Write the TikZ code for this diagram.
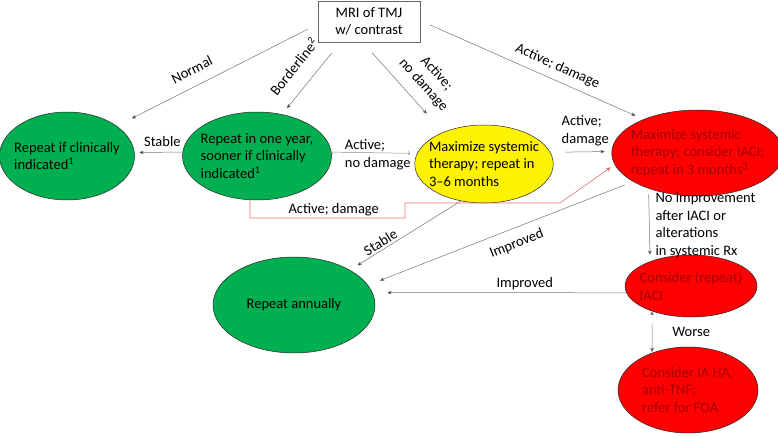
\documentclass[tikz,border=0pt]{standalone}
\usepackage{fontspec}
\setmainfont{Carlito}
\usepackage{xcolor}
\usetikzlibrary{arrows,shapes.geometric}

\definecolor{okgreen}{RGB}{0,176,80}
\definecolor{alarmred}{RGB}{255,0,0}
\definecolor{deepred}{RGB}{160,0,0}
\definecolor{linkred}{RGB}{228,112,112}
\definecolor{linkgray}{RGB}{115,115,115}

\begin{document}
\begin{tikzpicture}[x=1pt,y=-1pt,>=stealth',
 every node/.style={font=\fontsize{14.5}{17.5}\selectfont},
 oval/.style={ellipse,draw=black!85,line width=0.5pt,inner sep=-6pt,align=left},
 good/.style={oval,fill=okgreen},
 watch/.style={oval,fill=yellow},
 bad/.style={oval,fill=alarmred,text=deepred},
 lbl/.style={inner sep=1pt},
 link/.style={draw=linkgray,line width=0.5pt}]
 \useasboundingbox (0,0) rectangle (778,438);

 \node[draw=black!60,fill=white,align=center,minimum width=102pt,minimum height=41pt,inner sep=2pt] (M) at (369,21.5) {MRI of TMJ\\w/ contrast};
 \node[good,minimum width=135pt,minimum height=88pt] (G1) at (67,156) {Repeat if clinically\\indicated\textsuperscript{1}};
 \node[good,minimum width=149pt,minimum height=88pt] (G2) at (257,156) {Repeat in one year,\\sooner if clinically\\indicated\textsuperscript{1}};
 \node[watch,minimum width=138pt,minimum height=78pt] (Y) at (484,164) {Maximize systemic\\therapy; repeat in\\3--6 months};
 \node[bad,minimum width=155pt,minimum height=86pt] (R1) at (697.5,153) {Maximize systemic\\therapy; consider IACI;\\repeat in 3 months\textsuperscript{3}};
 \node[good,minimum width=162pt,minimum height=96pt] (G3) at (294,305) {Repeat annually};
 \node[bad,minimum width=132pt,minimum height=62pt] (R2) at (691,286) {Consider (repeat)\\IACI};
 \node[bad,minimum width=140pt,minimum height=86pt] (R3) at (688,390) {Consider IA HA,\\anti-TNF;\\refer for FOA};

 \coordinate (k1) at (405,218);
 \coordinate (k2) at (560,203);

 \path[->,link]
 (M.183) edge[shorten <=11pt,shorten >=17pt] node[lbl,sloped,above=10pt,pos=.59] {Normal} (G1.31)
 (M.216) edge[shorten <=14pt,shorten >=8pt] node[lbl,sloped,above=14pt,pos=.52] {Borderline\textsuperscript{2}} (G2.59)
 (M.253) edge[shorten <=14pt,shorten >=25pt] node[lbl,sloped,above=9pt,pos=.6,align=center] {Active;\\no damage} (Y.142)
 (M.1) edge[shorten <=11pt,shorten >=9pt] node[lbl,rotate=-24,above=6pt,pos=.59] {Active; damage} (R1.148)
 (G2.177) edge[shorten >=5pt] node[lbl,above=4pt,pos=.42] {Stable} (G1.3)
 (Y.10) edge[shorten <=15pt,shorten >=7pt] node[lbl,above=5pt,pos=.57,align=left] {Active;\\damage} (R1.179)
 (Y.238) edge[shorten >=9pt] node[lbl,sloped,above=1pt,pos=.69] {Stable} (G3.32)
 (R1.204) edge[shorten <=9pt,shorten >=13pt] node[lbl,sloped,below=8pt,pos=.46] {Improved} (G3.15)
 (R2.186) edge[shorten >=15pt] node[lbl,above=2pt,pos=.4] {Improved} (G3.9)
 (R1.216) edge[shorten <=6pt,shorten >=7pt] node[lbl,right=5pt,pos=.5,align=left] {No improvement\\after IACI or\\alterations\\in systemic Rx} (R2.149)
 (R2.213) edge[shorten <=12pt,shorten >=1pt] node[lbl,right=19pt,pos=.5] {Worse} (R3.134);

 \path[-to,draw=black!45,line width=0.5pt]
 (G2.3) edge[shorten >=7pt] node[lbl,yshift=-2pt,pos=.54,align=left] {Active;\\no damage} (Y.171);

 \draw[->,draw=linkred,line width=0.6pt,shorten >=5pt]
 ([xshift=-7pt]G2.south) |- node[lbl,above=1pt,pos=.77] {Active; damage} (k1) |- (k2) -- (R1.188);
\end{tikzpicture}
\end{document}
